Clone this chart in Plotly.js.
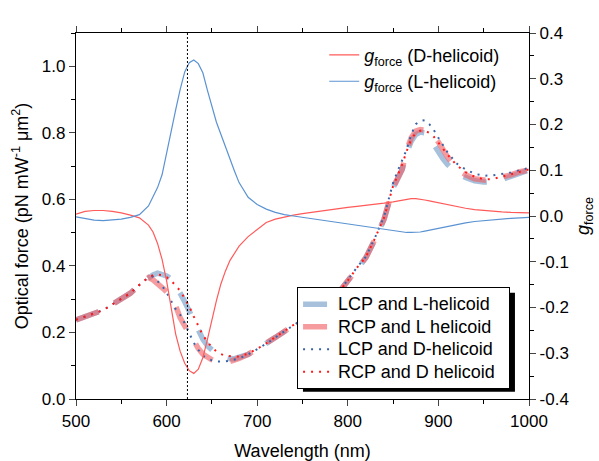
<!DOCTYPE html>
<html>
<head>
<meta charset="utf-8">
<script src="https://cdn.plot.ly/plotly-3.0.1.min.js"></script>
<style>html,body{margin:0;padding:0;background:#fff;}#chart{width:599px;height:461px;}</style>
</head>
<body>
<div id="chart"></div>
<script>
// Wavelength grid (nm)
const wavelength = [500,510,520,530,540,550,560,570,580,585,590,595,600,605,610,615,620,625,630,635,640,645,650,655,660,665,670,675,680,690,700,710,720,730,740,750,760,770,780,790,800,810,820,830,840,850,855,860,865,870,875,880,885,890,895,900,905,910,920,930,940,950,960,970,980,990,1000];

// Optical force (pN mW^-1 um^2)
const lcpL = [0.238,0.247,0.256,0.267,0.284,0.300,0.318,0.343,0.365,0.373,0.378,0.376,0.370,0.360,0.340,0.318,0.292,0.262,0.233,0.205,0.180,0.160,0.146,0.136,0.128,0.123,0.121,0.121,0.124,0.134,0.150,0.166,0.185,0.203,0.222,0.240,0.258,0.276,0.296,0.320,0.355,0.393,0.425,0.480,0.540,0.635,0.660,0.690,0.740,0.775,0.795,0.802,0.800,0.787,0.765,0.742,0.722,0.705,0.680,0.666,0.656,0.652,0.653,0.660,0.670,0.682,0.688];
const rcpL = [0.238,0.247,0.256,0.267,0.284,0.300,0.318,0.343,0.365,0.358,0.348,0.335,0.322,0.307,0.280,0.244,0.220,0.197,0.172,0.152,0.135,0.125,0.118,0.112,0.109,0.110,0.113,0.117,0.122,0.134,0.150,0.166,0.185,0.203,0.222,0.240,0.258,0.276,0.296,0.320,0.355,0.393,0.425,0.480,0.540,0.635,0.660,0.690,0.748,0.785,0.805,0.810,0.808,0.800,0.790,0.772,0.748,0.728,0.692,0.674,0.662,0.658,0.660,0.666,0.674,0.683,0.688];
const lcpD = [0.238,0.247,0.256,0.267,0.284,0.300,0.318,0.343,0.365,0.368,0.355,0.340,0.320,0.295,0.270,0.253,0.228,0.198,0.169,0.148,0.130,0.122,0.116,0.113,0.112,0.113,0.115,0.118,0.122,0.134,0.150,0.166,0.185,0.203,0.222,0.240,0.258,0.276,0.296,0.322,0.358,0.395,0.428,0.485,0.548,0.650,0.685,0.720,0.750,0.795,0.826,0.836,0.838,0.826,0.808,0.785,0.762,0.742,0.708,0.690,0.677,0.671,0.672,0.676,0.681,0.688,0.694];
const rcpD = [0.238,0.247,0.256,0.267,0.284,0.300,0.318,0.343,0.366,0.372,0.374,0.372,0.366,0.356,0.342,0.325,0.302,0.278,0.248,0.218,0.192,0.172,0.155,0.143,0.135,0.130,0.128,0.127,0.128,0.136,0.151,0.167,0.186,0.204,0.223,0.241,0.259,0.277,0.297,0.321,0.356,0.394,0.427,0.483,0.545,0.640,0.672,0.705,0.745,0.780,0.800,0.806,0.806,0.800,0.788,0.770,0.752,0.735,0.703,0.682,0.668,0.660,0.661,0.667,0.675,0.683,0.690];

// g_force
const gD = [0.004,0.010,0.012,0.012,0.010,0.007,0.002,-0.004,-0.020,-0.035,-0.060,-0.095,-0.142,-0.200,-0.258,-0.296,-0.322,-0.338,-0.344,-0.335,-0.310,-0.270,-0.225,-0.185,-0.148,-0.120,-0.097,-0.080,-0.066,-0.045,-0.030,-0.014,-0.007,-0.002,0.002,0.005,0.008,0.011,0.014,0.017,0.019,0.021,0.023,0.026,0.028,0.031,0.033,0.035,0.037,0.038,0.038,0.037,0.035,0.033,0.031,0.028,0.026,0.024,0.020,0.017,0.014,0.012,0.010,0.009,0.008,0.007,0.007];
const gL = [-0.002,-0.006,-0.009,-0.010,-0.009,-0.007,-0.003,0.003,0.022,0.043,0.062,0.090,0.139,0.185,0.232,0.277,0.315,0.335,0.341,0.333,0.313,0.275,0.240,0.205,0.178,0.150,0.125,0.098,0.073,0.041,0.025,0.015,0.008,0.003,0.000,-0.003,-0.006,-0.009,-0.012,-0.015,-0.018,-0.020,-0.023,-0.026,-0.029,-0.032,-0.034,-0.035,-0.036,-0.036,-0.036,-0.035,-0.033,-0.031,-0.029,-0.026,-0.024,-0.022,-0.018,-0.015,-0.012,-0.010,-0.008,-0.006,-0.005,-0.004,-0.003];

// Tick labels of the g_force axis
const gTickVals = [-0.4,-0.3,-0.2,-0.1,0,0.1,0.2,0.3,0.4];
const gTickText = ['-0.4','-0.3','-0.2','-0.1','0.0','0.1','0.2','0.3','0.4'];

// Marked wavelength
const markedWavelength = 623;
const markedLabel = '620';

const FAM = 'Liberation Sans, Arial, sans-serif';
const tickFont = {family: FAM, size: 17, color: '#000'};
const titleFont = {family: FAM, size: 18, color: '#000'};
const big = s => '<span style="font-size:18px">' + s + '</span>&nbsp;&nbsp;';

const traces = [
  {x: wavelength, y: gD, type: 'scatter', mode: 'lines', yaxis: 'y2', legend: 'legend',
   name: '<i>g</i><sub>force</sub> (D-helicoid)', line: {color: '#ff5a5a', width: 1.2}},
  {x: wavelength, y: gL, type: 'scatter', mode: 'lines', yaxis: 'y2', legend: 'legend',
   name: '<i>g</i><sub>force</sub> (L-helicoid)', line: {color: '#5b92d2', width: 1.2}},
  {x: wavelength, y: lcpL, type: 'scatter', mode: 'lines', legend: 'legend2',
   name: big('LCP and L-helicoid'), line: {color: 'rgba(120,158,200,0.65)', width: 5.5, dash: '24px,18px'}},
  {x: wavelength, y: rcpL, type: 'scatter', mode: 'lines', legend: 'legend2',
   name: big('RCP and L helicoid'), line: {color: 'rgba(240,90,95,0.6)', width: 5.5, dash: '24px,18px'}},
  {x: wavelength, y: lcpD, type: 'scatter', mode: 'lines', legend: 'legend2',
   name: big('LCP and D-helicoid'), line: {color: '#3a64a8', width: 2, dash: '2px,6px'}},
  {x: wavelength, y: rcpD, type: 'scatter', mode: 'lines', legend: 'legend2',
   name: big('RCP and D helicoid'), line: {color: '#ff1a1a', width: 2, dash: '2px,6px'}}
];

const layout = {
  width: 599, height: 461,
  margin: {l: 76, r: 70, t: 33, b: 62},
  paper_bgcolor: '#fff', plot_bgcolor: '#fff',
  showlegend: true,
  xaxis: {
    range: [500, 1000], tick0: 500, dtick: 100, ticks: 'outside', ticklen: 6, tickwidth: 1,
    showline: true, linecolor: '#000', linewidth: 1.2, mirror: 'ticks',
    minor: {dtick: 50, ticks: 'outside', ticklen: 4, tickwidth: 1, tickcolor: '#000'},
    showgrid: false, zeroline: false, tickfont: tickFont,
    title: {text: 'Wavelength (nm)', font: titleFont, standoff: 14}
  },
  xaxis2: {
    overlaying: 'x', side: 'top', anchor: 'y', range: [500, 1000],
    tickmode: 'array', tickvals: [markedWavelength], ticktext: [markedLabel],
    ticks: '', showline: false, showgrid: false, zeroline: false, tickfont: tickFont
  },
  yaxis: {
    range: [0, 1.1], tick0: 0, dtick: 0.2, tickformat: '.1f', ticks: 'outside', ticklen: 6, tickwidth: 1,
    showline: true, linecolor: '#000', linewidth: 1.2, mirror: false,
    minor: {dtick: 0.1, ticks: 'outside', ticklen: 4, tickwidth: 1, tickcolor: '#000'},
    showgrid: false, zeroline: false, tickfont: tickFont,
    title: {text: 'Optical force (pN mW<sup>-1</sup> μm<sup>2</sup>)', font: titleFont, standoff: 8}
  },
  yaxis2: {
    overlaying: 'y', side: 'right', anchor: 'x', range: [-0.4, 0.4],
    tickmode: 'array', tickvals: gTickVals, ticktext: gTickText,
    ticks: 'outside', ticklen: 6, tickwidth: 1, showline: true, linecolor: '#000', linewidth: 1.2,
    minor: {tickmode: 'linear', tick0: 0, dtick: 0.05, ticks: 'outside', ticklen: 4, tickwidth: 1, tickcolor: '#000'},
    showgrid: false, zeroline: false, tickfont: tickFont,
    title: {text: '<i>g</i><sub>force</sub>', font: titleFont, standoff: 8}
  },
  legend: {
    x: 0.548, y: 0.99, xanchor: 'left', yanchor: 'top',
    bgcolor: 'rgba(0,0,0,0)', borderwidth: 0, font: titleFont, tracegroupgap: 0
  },
  legend2: {
    x: 0.488, y: 0.306, xanchor: 'left', yanchor: 'top',
    bgcolor: '#fff', bordercolor: '#000', borderwidth: 1,
    font: {family: FAM, size: 15, color: '#000'}
  },
  shapes: [
    {type: 'line', xref: 'x', yref: 'paper', x0: markedWavelength, x1: markedWavelength, y0: 0, y1: 1,
     line: {color: '#000', width: 1, dash: '2px,2px'}, layer: 'above'},
    {type: 'rect', xref: 'paper', yref: 'paper', x0: 0.501, x1: 0.969, y0: 0.02, y1: 0.29,
     fillcolor: '#000', line: {width: 0}, layer: 'above'}
  ]
};

Plotly.newPlot('chart', traces, layout, {displayModeBar: false, staticPlot: true});
</script>
</body>
</html>
